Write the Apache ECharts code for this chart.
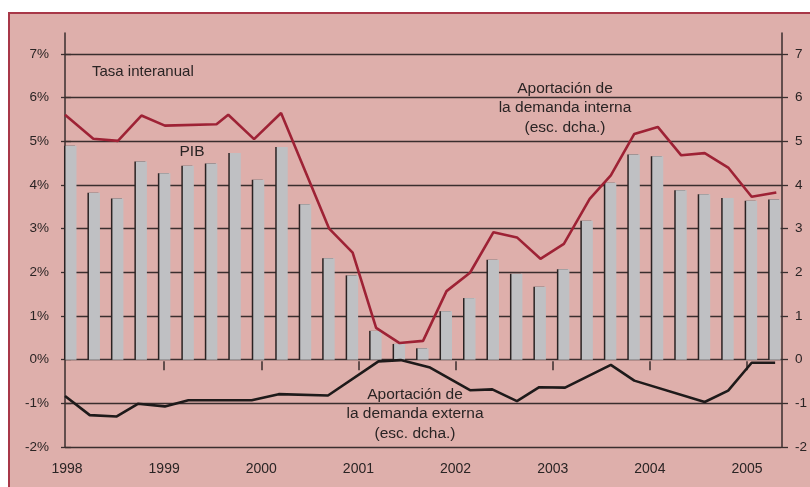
<!DOCTYPE html>
<html>
<head>
<meta charset="utf-8">
<script src="https://cdn.jsdelivr.net/npm/echarts@6/dist/echarts.min.js"></script>
<style>
html, body { margin: 0; padding: 0; background: #fff; overflow: hidden; }
#frame { position: absolute; left: 8px; top: 12px; width: 840px; height: 520px; background: #DEAFAB; border: 2px solid #A83848; box-sizing: border-box; }
#chart { position: absolute; left: 0; top: 0; width: 810px; height: 487px; }
</style>
</head>
<body>
<div id="frame"></div>
<div id="chart"></div>
<script>
// trimestres 1998 T1 .. 2005 T3 (barras en el índice 0..30)
const years = [1998, 1999, 2000, 2001, 2002, 2003, 2004, 2005];
const pib = [4.90, 3.82, 3.69, 4.54, 4.27, 4.44, 4.49, 4.73, 4.12, 4.87,
             3.56, 2.32, 1.93, 0.66, 0.36, 0.26, 1.11, 1.41, 2.29, 1.97,
             1.67, 2.07, 3.18, 4.05, 4.70, 4.66, 3.88, 3.79, 3.70, 3.64, 3.67];

// aportación de la demanda interna (posición en trimestres, valor)
const internaT = [-0.255, 0.95, 2, 3, 4, 6.2, 6.7, 7.8, 8.95, 11, 12, 13, 14, 15, 16, 17, 18, 19, 20, 21, 22.1, 23, 24, 25, 26, 27, 28, 29, 30.05];
const internaV = [5.61, 5.06, 5.01, 5.59, 5.36, 5.39, 5.61, 5.05, 5.65, 3.00, 2.45, 0.73, 0.38, 0.43, 1.57, 1.99, 2.92, 2.80, 2.31, 2.65, 3.68, 4.22, 5.17, 5.33, 4.68, 4.73, 4.40, 3.73, 3.83];

// aportación de la demanda externa
const externaT = [-0.255, 0.8, 1.95, 2.85, 4, 5, 7.7, 8.85, 10.95, 13.1, 14.05, 15.3, 17, 17.95, 19, 19.95, 21.05, 23, 24, 27, 28, 29, 30];
const externaV = [-0.83, -1.27, -1.30, -1.01, -1.07, -0.93, -0.93, -0.79, -0.82, -0.04, -0.01, -0.18, -0.70, -0.68, -0.95, -0.63, -0.64, -0.12, -0.48, -0.97, -0.71, -0.07, -0.07];

const txt = '#2a2424';
const gridCol = '#3a2e2e';
const font = '"Liberation Sans", Arial, sans-serif';

let chart = echarts.init(document.getElementById('chart'));

let option = {
  backgroundColor: 'transparent',
  animation: false,
  grid: [
    { left: 65, right: 28.25, top: 54, bottom: 40 },        // datos
    { left: 65, right: 28.25, top: 33, bottom: 40 },        // ejes verticales
    { left: 67, right: 63, top: 54, bottom: 125.7 }         // años
  ],
  xAxis: [
    { gridIndex: 0, type: 'value', min: -0.255, max: 30.25, show: false },
    { gridIndex: 1, type: 'value', min: 0, max: 1, show: false },
    {
      gridIndex: 2, type: 'value', min: years[0], max: years[years.length - 1], interval: 1,
      axisLine: { show: false },
      splitLine: { show: false },
      axisTick: { show: true, length: 9, customValues: years.slice(1), lineStyle: { color: gridCol, width: 1.5 } },
      axisLabel: { margin: 101, color: txt, fontSize: 14, fontFamily: font, formatter: (v) => String(v) }
    }
  ],
  yAxis: [
    {
      gridIndex: 0, type: 'value', min: -2, max: 7, interval: 1, position: 'left',
      axisLine: { show: false },
      axisTick: { show: true, length: 10, lineStyle: { color: gridCol, width: 1.3 } },
      splitLine: { show: true, lineStyle: { color: gridCol, width: 1.3 } },
      axisLabel: { formatter: '{value}%', margin: 16, color: txt, fontSize: 13.5, fontFamily: font }
    },
    {
      gridIndex: 0, type: 'value', min: -2, max: 7, interval: 1, position: 'right',
      axisLine: { show: false },
      axisTick: { show: true, length: 7, lineStyle: { color: gridCol, width: 1.3 } },
      splitLine: { show: false },
      axisLabel: { formatter: '{value}', margin: 14, color: txt, fontSize: 13.5, fontFamily: font }
    },
    {
      gridIndex: 1, type: 'value', min: 0, max: 1, position: 'left',
      axisLine: { show: true, lineStyle: { color: gridCol, width: 1.5 } },
      axisTick: { show: false }, axisLabel: { show: false }, splitLine: { show: false }
    },
    {
      gridIndex: 1, type: 'value', min: 0, max: 1, position: 'right',
      axisLine: { show: true, lineStyle: { color: gridCol, width: 1.5 } },
      axisTick: { show: false }, axisLabel: { show: false }, splitLine: { show: false }
    },
    { gridIndex: 2, type: 'value', min: 0, max: 1, show: false }
  ],
  series: [
    {
      name: 'PIB', type: 'bar', xAxisIndex: 0, yAxisIndex: 0,
      barWidth: 11,
      data: pib.map((v, i) => [i, v]),
      itemStyle: { color: '#BFC0C3', shadowColor: '#2a2222', shadowOffsetX: -1.5, shadowBlur: 0 }
    },
    {
      name: 'Demanda interna', type: 'line', xAxisIndex: 0, yAxisIndex: 1,
      symbol: 'none',
      data: internaT.map((t, i) => [t, internaV[i]]),
      lineStyle: { color: '#9E2235', width: 2.6 }
    },
    {
      name: 'Demanda externa', type: 'line', xAxisIndex: 0, yAxisIndex: 1,
      symbol: 'none',
      data: externaT.map((t, i) => [t, externaV[i]]),
      lineStyle: { color: '#1e1a1a', width: 2.6 }
    }
  ],
  graphic: [
    { type: 'text', x: 92, y: 72, style: { text: 'Tasa interanual', font: '15px ' + font, fill: txt, textAlign: 'left', textVerticalAlign: 'middle' } },
    { type: 'text', x: 192, y: 152, style: { text: 'PIB', font: '15.5px ' + font, fill: txt, textAlign: 'center', textVerticalAlign: 'middle' } },
    { type: 'text', x: 565, y: 108, style: { text: 'Aportación de\nla demanda interna\n(esc. dcha.)', font: '15.5px ' + font, lineHeight: 19.5, fill: txt, textAlign: 'center', textVerticalAlign: 'middle' } },
    { type: 'text', x: 415, y: 414, style: { text: 'Aportación de\nla demanda externa\n(esc. dcha.)', font: '15.5px ' + font, lineHeight: 19.5, fill: txt, textAlign: 'center', textVerticalAlign: 'middle' } }
  ]
};

chart.setOption(option);
</script>
</body>
</html>
